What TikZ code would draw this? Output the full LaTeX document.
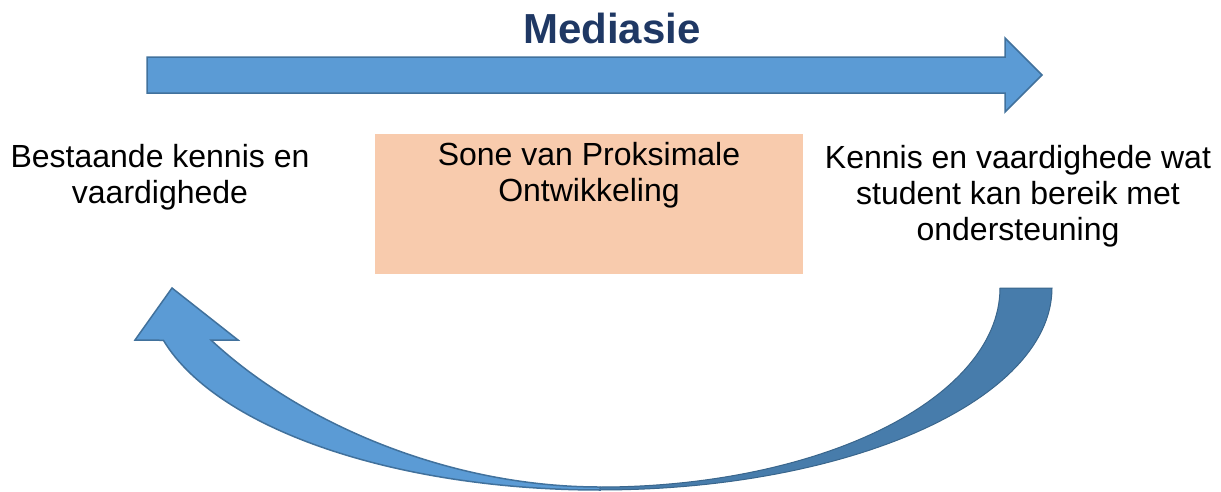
\documentclass[tikz,border=0pt]{standalone}
\usepackage{fontspec}
\setmainfont{Liberation Sans}
\definecolor{arrowblue}{RGB}{91,155,213}
\definecolor{arrowline}{RGB}{65,113,156}
\definecolor{arrowshade}{RGB}{71,124,171}
\definecolor{zonefill}{RGB}{248,203,173}
\definecolor{titleblue}{RGB}{31,56,100}
\tikzset{
  bluearrow/.style={fill=arrowblue, draw=arrowline, line width=1.5pt},
  shadearrow/.style={fill=arrowshade, draw=arrowline!90!black, line width=1pt},
  label/.style={font=\fontsize{32}{36}\selectfont, align=center, inner sep=0pt, anchor=base},
  titlelabel/.style={font=\fontsize{42}{48}\selectfont\bfseries, text=titleblue, inner sep=0pt, anchor=base},
  zonebox/.style={fill=zonefill, draw=none}
}
\begin{document}
\begin{tikzpicture}[x=1pt, y=-1pt]
\useasboundingbox (0,0) rectangle (1221,491);

% straight arrow along the top
\draw[bluearrow] (147,57) -- (1005,57) -- (1005,38) -- (1042,75)
  -- (1005,112) -- (1005,93) -- (147,93) -- cycle;
\node[titlelabel] (title) at (612,43) {Mediasie};

% zone box
\fill[zonebox] (375,134) rectangle (803,274);
% multi-line labels are placed by the baseline of their last line
\node[label] (zone) at (589,201) {Sone van Proksimale\\Ontwikkeling};

% side texts
\node[label] (known) at (160,203) {Bestaande kennis en\\vaardighede};
\node[label] (reach) at (1018,240) {Kennis en vaardighede wat\\student kan bereik met\\ondersteuning};

% curved return arrow: back (shaded) half
\draw[shadearrow]
  plot[domain=0:90, samples=60] ({600+452*cos(\x)},{288+202*sin(\x)})
  -- plot[domain=90:0, samples=60] ({600+400*cos(\x)},{288+199*sin(\x)})
  -- cycle;
% curved return arrow: front half with head
\draw[bluearrow, line join=miter]
  plot[domain=165:90, samples=60] ({600+452*cos(\x)},{288+202*sin(\x)})
  -- (600,487) .. controls (450,487) and (301,424) .. (211,340)
  -- (238,340) -- (172,288) -- (135,340) -- cycle;
\end{tikzpicture}
\end{document}
